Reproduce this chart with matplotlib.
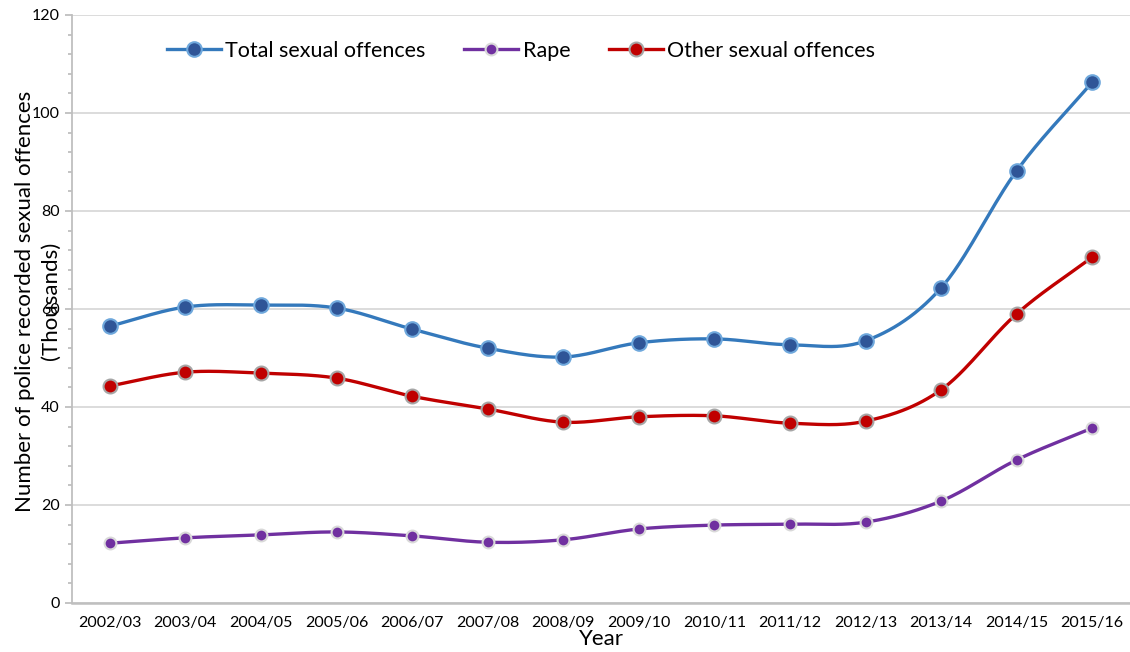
import numpy as np
import matplotlib
matplotlib.use("Agg")
import matplotlib.pyplot as plt
from matplotlib.ticker import MultipleLocator

years = ["2002/03", "2003/04", "2004/05", "2005/06", "2006/07", "2007/08", "2008/09",
         "2009/10", "2010/11", "2011/12", "2012/13", "2013/14", "2014/15", "2015/16"]
total = [56.5, 60.4, 60.8, 60.2, 55.9, 52.0, 50.2, 53.1, 53.9, 52.7, 53.5, 64.3, 88.2, 106.3]
rape = [12.2, 13.3, 13.9, 14.5, 13.7, 12.4, 12.9, 15.1, 15.9, 16.1, 16.5, 20.8, 29.2, 35.7]
other = [44.3, 47.1, 46.9, 45.9, 42.2, 39.6, 36.9, 38.0, 38.2, 36.7, 37.1, 43.5, 59.0, 70.6]

plt.rcParams['font.family'] = ['Lato', 'DejaVu Sans']


def smooth(x, y, n=30):
    x = np.asarray(x, float)
    y = np.asarray(y, float)
    xp = np.concatenate([[2 * x[0] - x[1]], x, [2 * x[-1] - x[-2]]])
    yp = np.concatenate([[2 * y[0] - y[1]], y, [2 * y[-1] - y[-2]]])
    xs, ys = [], []
    t = np.linspace(0, 1, n)
    for i in range(1, len(xp) - 2):
        p0, p1, p2, p3 = [np.array([xp[j], yp[j]]) for j in range(i - 1, i + 3)]
        tt = t[:, None]
        pts = 0.5 * ((2 * p1) + (-p0 + p2) * tt + (2 * p0 - 5 * p1 + 4 * p2 - p3) * tt ** 2
                     + (-p0 + 3 * p1 - 3 * p2 + p3) * tt ** 3)
        xs.append(pts[:, 0])
        ys.append(pts[:, 1])
    return np.concatenate(xs), np.concatenate(ys)


fig = plt.figure(figsize=(11.3, 6.52), dpi=100)
ax = fig.add_axes([72 / 1130, 1 - 603 / 652, 1 - 72 / 1130, (603 - 15) / 652])

x = np.arange(len(years))
series = [
    ("Total sexual offences", total, "#3479BC", "#2F5597", "#6FA8DC", 10.5),
    ("Rape", rape, "#7030A0", "#7030A0", "#D9D9D9", 8.5),
    ("Other sexual offences", other, "#C00000", "#C00000", "#A6A6A6", 10.0),
]
handles = []
for name, vals, lc, fc, ec, ms in series:
    sx, sy = smooth(x, vals)
    ax.plot(sx, sy, color=lc, lw=2.4, zorder=3, solid_capstyle='round')
    ax.plot(x, vals, ls='none', marker='o', ms=ms, mfc=fc, mec=ec, mew=1.5, zorder=4)
    h, = ax.plot([], [], color=lc, lw=2.4, marker='o', ms=ms, mfc=fc, mec=ec, mew=1.5, label=name)
    handles.append(h)

ax.set_xlim(-0.5, len(years) - 0.5)
ax.set_ylim(0, 120)
ax.set_xticks(x)
ax.set_xticklabels(years)
ax.yaxis.set_major_locator(MultipleLocator(20))
ax.yaxis.set_minor_locator(MultipleLocator(4))
ax.grid(axis='y', which='major', color='#D9D9D9', lw=1.3)
ax.set_axisbelow(True)
for s in ['top', 'right']:
    ax.spines[s].set_visible(False)
ax.spines['left'].set_color('#BFBFBF')
ax.spines['bottom'].set_color('#BFBFBF')
ax.spines['left'].set_linewidth(1.3)
ax.spines['bottom'].set_linewidth(1.8)
ax.tick_params(axis='x', length=0, labelsize=11.5, pad=9, colors='black')
ax.tick_params(axis='y', which='major', length=5, color='#BFBFBF', width=1.3, labelsize=11.5, pad=4)
ax.tick_params(axis='y', which='minor', length=3, color='#BFBFBF', width=1.3)

ax.set_xlabel("Year", fontsize=16, labelpad=0)
ax.xaxis.set_label_coords(0.5, -0.045)
ax.set_ylabel("Number of police recorded sexual offences\n(Thousands)", fontsize=16,
              multialignment='center', linespacing=1.35)
ax.yaxis.set_label_coords(-0.011, 0.513)

leg = ax.legend(handles=handles, loc='center left', bbox_to_anchor=(0.09, 0.939),
                ncol=3, frameon=False, fontsize=15.5, handlelength=2.5, handletextpad=0.2,
                columnspacing=1.8, borderpad=0, borderaxespad=0)

fig.savefig("out.png", dpi=100)
